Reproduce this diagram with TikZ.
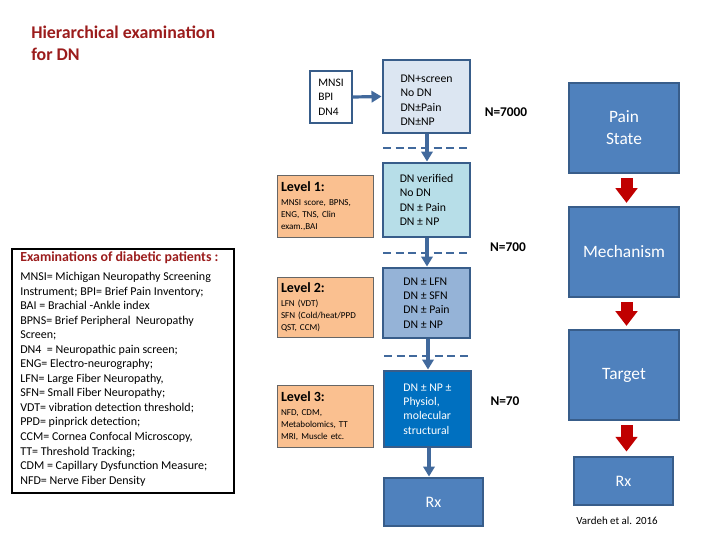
\documentclass[tikz,border=0pt]{standalone}
\usepackage{fontspec}
\setmainfont{Carlito}
\usetikzlibrary{arrows.meta}
\definecolor{titlered}{HTML}{9B1C1C}
\definecolor{bdr}{HTML}{385D8A}
\definecolor{screenfill}{HTML}{DCE6F2}
\definecolor{verfill}{HTML}{B7DEE8}
\definecolor{lfnfill}{HTML}{95B3D7}
\definecolor{physfill}{HTML}{0070C0}
\definecolor{midblue}{HTML}{4F81BD}
\definecolor{lvlfill}{HTML}{FAC090}
\definecolor{arrblue}{HTML}{41699C}
\definecolor{redarr}{HTML}{C00000}
\tikzset{
  pbox/.style={draw=bdr, line width=2.2pt, minimum width=#1, inner sep=0pt, align=left},
  bluebox/.style={draw=bdr, line width=2.2pt, fill=midblue, text=white, inner sep=0pt, align=center},
  lvlbox/.style={draw=gray!80!black, line width=0.6pt, fill=lvlfill, inner sep=0pt, align=left, font=\fontsize{6.8}{9}\selectfont},
  flowarr/.style={draw=arrblue, line width=2.4pt, -{Triangle[length=7.5pt,width=8.5pt]}},
  redarrow/.style={draw=redarr, line width=9pt, -{Triangle[length=11pt,width=16pt]}},
  divider/.style={draw=arrblue, line width=2.2pt, dash pattern=on 6pt off 3.5pt},
  boxfont/.style={font=\fontsize{8.8}{10.8}\selectfont},
  nfont/.style={font=\bfseries\fontsize{10}{12}\selectfont},
  rightfont/.style={font=\fontsize{13}{16.5}\selectfont},
}
\newcommand{\lvlhead}[1]{{\bfseries\fontsize{10.5}{12}\selectfont #1}}
\begin{document}
\begin{tikzpicture}[x=0.75pt,y=-0.75pt]
\useasboundingbox (0,0) rectangle (720,540);
% title
\node[anchor=west, align=left, text=titlered, font=\bfseries\fontsize{13.4}{16.5}\selectfont, inner sep=0pt] (title) at (31,43) {Hierarchical examination\\for DN};
% MNSI box
\node[draw=bdr, line width=0.8pt, minimum width=31.5pt, minimum height=39pt, inner sep=0pt, align=left, font=\fontsize{8.6}{10.8}\selectfont] (mnsi) at (331,97) {MNSI\\BPI\\DN4};
% left flow boxes
\node[pbox=65.25pt, minimum height=54.75pt, fill=screenfill, boxfont] (screen) at (426.5,96.5) {\rule{0pt}{11pt}DN+screen\\No DN\\DN±Pain\\DN±NP};
\node[pbox=65.25pt, minimum height=55.5pt, fill=verfill, boxfont] (verified) at (426.5,200) {DN verified\\No DN\\DN ± Pain\\DN ± NP};
\node[pbox=65.25pt, minimum height=52.5pt, fill=lfnfill, boxfont] (lfn) at (426.5,303) {DN ± LFN\\DN ± SFN\\DN ± Pain\\DN ± NP};
\node[pbox=65.25pt, minimum height=57pt, fill=physfill, text=white, boxfont] (phys) at (427.5,409) {DN ± NP ±\\Physiol,\\molecular\\structural};
\node[bluebox, minimum width=74.25pt, minimum height=36pt, font=\fontsize{12}{14}\selectfont] (rxl) at (433.5,502) {Rx};
% N labels
\node[nfont] (n7000) at (506,112) {N=7000};
\node[nfont] (n700) at (508,247) {N=700};
\node[nfont] (n70) at (505,401) {N=70};
% dividers
\coordinate (d1a) at (383,148); \coordinate (d1b) at (470,148);
\coordinate (d2a) at (383,253); \coordinate (d2b) at (470,253);
\coordinate (d3a) at (384,356); \coordinate (d3b) at (471,356);
\draw[divider] (d1a) -- (d1b);
\draw[divider] (d2a) -- (d2b);
\draw[divider] (d3a) -- (d3b);
% flow arrows
\draw[flowarr] (mnsi.east) -- (screen.west);
\draw[flowarr] (screen.south -| 427,0) -- (verified.north -| 427,0);
\draw[flowarr] (verified.south -| 427,0) -- (lfn.north -| 427,0);
\draw[flowarr] (lfn.south -| 428,0) -- (phys.north -| 428,0);
\draw[flowarr] (phys.south -| 429,0) -- (rxl.north -| 429,0);
% level boxes
\node[lvlbox, minimum width=72pt, minimum height=46.5pt, text width=66pt] (lvl1) at (325,206) {\lvlhead{Level 1:}\\[1.5pt]MNSI score, BPNS,\\ENG, TNS, Clin\\exam.,BAI};
\node[lvlbox, minimum width=72pt, minimum height=45pt, text width=66pt] (lvl2) at (325,307) {\lvlhead{Level 2:}\\[1.5pt]LFN (VDT)\\SFN (Cold/heat/PPD\\QST, CCM)};
\node[lvlbox, minimum width=72pt, minimum height=46pt, text width=66pt] (lvl3) at (325,416.5) {\lvlhead{Level 3:}\\[1.5pt]NFD, CDM,\\Metabolomics, TT\\MRI, Muscle etc.};
% examinations box
\node[draw=black, line width=0.8pt, minimum width=166.5pt, minimum height=183pt, inner sep=0pt] (exam) at (123,371) {};
\node[anchor=west, inner sep=0pt, text=titlered, font=\bfseries\fontsize{10.4}{12}\selectfont] (examtitle) at (20,258) {Examinations of diabetic patients :};
\node[anchor=north west, align=left, inner sep=0pt, font=\fontsize{9}{10.9}\selectfont] (examtext) at (20,272) {MNSI= Michigan Neuropathy Screening\\
Instrument; BPI= Brief Pain Inventory;\\
BAI = Brachial -Ankle index\\
BPNS= Brief Peripheral\ \ Neuropathy\\
Screen;\\
DN4\ \ = Neuropathic pain screen;\\
ENG= Electro-neurography;\\
LFN= Large Fiber Neuropathy,\\
SFN= Small Fiber Neuropathy;\\
VDT= vibration detection threshold;\\
PPD= pinprick detection;\\
CCM= Cornea Confocal Microscopy,\\
TT= Threshold Tracking;\\
CDM\ = Capillary Dysfunction Measure;\\
NFD= Nerve Fiber Density};
% right column
\node[bluebox, minimum width=82.5pt, minimum height=67.5pt, rightfont] (pain) at (624,128) {Pain\\State};
\node[bluebox, minimum width=82.5pt, minimum height=67.5pt, rightfont] (mech) at (624,252) {Mechanism};
\node[bluebox, minimum width=82.5pt, minimum height=67.5pt, rightfont] (target) at (624,375) {Target};
\node[bluebox, minimum width=74.25pt, minimum height=36pt, font=\fontsize{12}{14}\selectfont] (rxr) at (623.5,481) {Rx};
\draw[redarrow] ([yshift=-3pt]pain.south -| 626.5,0) -- ([yshift=2pt]mech.north -| 626.5,0);
\draw[redarrow] ([yshift=-3pt]mech.south -| 626.5,0) -- ([yshift=2pt]target.north -| 626.5,0);
\draw[redarrow] ([yshift=-3pt]target.south -| 626.5,0) -- ([yshift=3pt]rxr.north -| 626.5,0);
\node[font=\fontsize{8.2}{9}\selectfont] (vardeh) at (617,521) {Vardeh et al. 2016};
\end{tikzpicture}
\end{document}
